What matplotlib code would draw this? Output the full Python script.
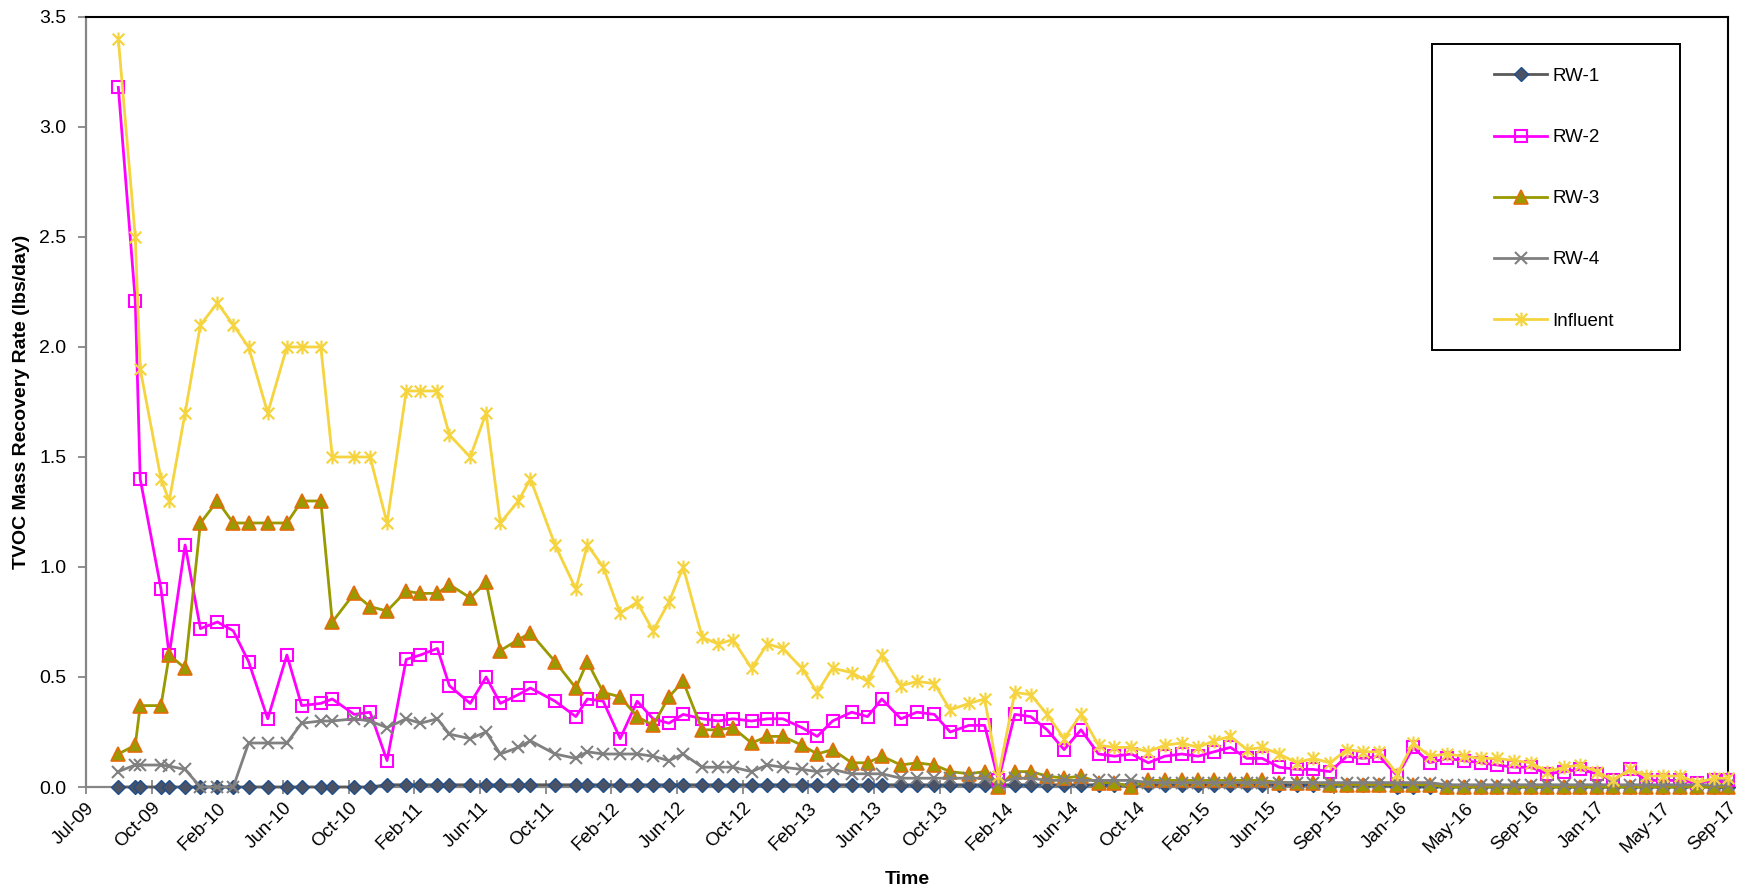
import pandas as pd
import matplotlib
matplotlib.use("Agg")
import matplotlib.pyplot as plt
import matplotlib.dates as mdates
from matplotlib.path import Path
from matplotlib.patches import Rectangle
from matplotlib.ticker import MultipleLocator, FormatStrFormatter

plt.rcParams["font.family"] = ["Liberation Sans", "DejaVu Sans"]

# sampling dates (roughly monthly)
sample_dates = [
    "2009-08-30", "2009-09-30", "2009-10-09", "2009-11-16", "2009-12-01", "2009-12-30",
    "2010-01-27", "2010-02-27", "2010-03-28", "2010-04-25", "2010-05-30", "2010-07-04",
    "2010-07-31", "2010-09-04", "2010-09-25", "2010-11-04", "2010-12-03",
    "2011-01-03", "2011-02-07", "2011-03-05", "2011-04-05", "2011-04-27", "2011-06-04",
    "2011-07-03", "2011-07-29", "2011-08-31", "2011-09-22", "2011-11-06", "2011-12-14",
    "2012-01-04", "2012-02-02", "2012-03-04", "2012-04-04", "2012-05-03", "2012-06-01",
    "2012-06-27", "2012-08-01", "2012-08-30", "2012-09-26", "2012-10-30", "2012-11-28",
    "2012-12-26",
    "2013-01-30", "2013-02-27", "2013-03-27", "2013-05-01", "2013-05-30", "2013-06-25",
    "2013-07-30", "2013-08-28", "2013-09-29", "2013-10-28", "2013-12-01", "2013-12-30",
    "2014-01-24", "2014-02-23", "2014-03-24", "2014-04-23", "2014-05-24", "2014-06-24",
    "2014-07-26", "2014-08-24", "2014-09-24", "2014-10-25", "2014-11-24", "2014-12-25",
    "2015-01-24", "2015-02-22", "2015-03-24", "2015-04-23", "2015-05-21", "2015-06-21",
    "2015-07-23", "2015-08-22", "2015-09-22", "2015-10-23", "2015-11-21", "2015-12-21",
    "2016-01-23", "2016-02-21", "2016-03-22", "2016-04-22", "2016-05-23", "2016-06-23",
    "2016-07-23", "2016-08-23", "2016-09-23", "2016-10-23", "2016-11-23", "2016-12-22",
    "2017-01-22", "2017-02-20", "2017-03-23", "2017-04-22", "2017-05-23", "2017-06-23",
    "2017-07-24", "2017-08-24", "2017-09-18",
]

# TVOC mass recovery rate, lbs/day
rw1 = [0.0] * 17 + [0.01] * 61 + [0.0] * 21

rw2 = [
    3.18, 2.21, 1.40, 0.90, 0.60, 1.10, 0.72, 0.75, 0.71, 0.57, 0.31, 0.60, 0.37,
    0.38, 0.40, 0.33, 0.34, 0.12, 0.58, 0.60, 0.63, 0.46, 0.38, 0.50, 0.38, 0.42,
    0.45, 0.39, 0.32, 0.40, 0.39, 0.22, 0.39, 0.31, 0.29, 0.33, 0.31, 0.30, 0.31,
    0.30, 0.31, 0.31, 0.27, 0.23, 0.30, 0.34, 0.32, 0.40, 0.31, 0.34,
    0.33, 0.25, 0.28, 0.28, 0.03, 0.33, 0.32, 0.26, 0.17, 0.26, 0.15, 0.14, 0.15,
    0.11, 0.14, 0.15, 0.14, 0.16, 0.18, 0.13, 0.13, 0.09, 0.08, 0.08,
    0.07, 0.14, 0.13, 0.14, 0.05, 0.18, 0.11, 0.13, 0.12, 0.11, 0.10, 0.09, 0.09,
    0.06, 0.07, 0.08, 0.06, 0.03, 0.08, 0.03, 0.03, 0.03, 0.02, 0.03, 0.03,
]

rw3 = [
    0.15, 0.19, 0.37, 0.37, 0.60, 0.54, 1.20, 1.30, 1.20, 1.20, 1.20, 1.20, 1.30,
    1.30, 0.75, 0.88, 0.82, 0.80, 0.89, 0.88, 0.88, 0.92, 0.86, 0.93, 0.62, 0.67,
    0.70, 0.57, 0.45, 0.57, 0.43, 0.41, 0.32, 0.28, 0.41, 0.48, 0.26, 0.26, 0.27,
    0.20, 0.23, 0.23, 0.19, 0.15, 0.17, 0.11, 0.11, 0.14, 0.10, 0.11,
    0.10, 0.07, 0.06, 0.07, 0.00, 0.07, 0.07, 0.05, 0.04, 0.05, 0.02, 0.02, 0.00,
    0.03, 0.03, 0.03, 0.03, 0.03, 0.03, 0.03, 0.03, 0.02, 0.02, 0.02,
    0.01, 0.01, 0.01, 0.01, 0.01, 0.01, 0.01,
    0.0, 0.0, 0.0, 0.0, 0.0, 0.0, 0.0, 0.0, 0.0, 0.0, 0.0, 0.0, 0.0, 0.0, 0.0,
    0.0, 0.0, 0.0,
]

rw4 = [
    0.07, 0.10, 0.10, 0.10, 0.095, 0.08, 0.00, 0.00, 0.00, 0.20, 0.20, 0.20, 0.29,
    0.30, 0.30, 0.31, 0.30, 0.27, 0.31, 0.29, 0.31, 0.24, 0.22, 0.25, 0.15, 0.18,
    0.21, 0.15, 0.13, 0.16, 0.15, 0.15, 0.15, 0.14, 0.12, 0.15, 0.09, 0.09, 0.09,
    0.07, 0.10, 0.09, 0.08, 0.07, 0.08, 0.06, 0.06, 0.06, 0.04, 0.04,
    0.04, 0.04, 0.04, 0.04, 0.02, 0.04, 0.04, 0.03, 0.03, 0.03, 0.03, 0.03, 0.03,
    0.02, 0.02, 0.02, 0.02, 0.02, 0.02, 0.02, 0.02, 0.02, 0.02, 0.02,
    0.02, 0.02, 0.02, 0.02, 0.02, 0.02, 0.02,
    0.01, 0.01, 0.01, 0.01, 0.01, 0.01, 0.01, 0.01, 0.01, 0.01, 0.01, 0.01, 0.01,
    0.01, 0.01, 0.01, 0.01, 0.01,
]

influent = [
    3.40, 2.50, 1.90, 1.40, 1.30, 1.70, 2.10, 2.20, 2.10, 2.00, 1.70, 2.00, 2.00,
    2.00, 1.50, 1.50, 1.50, 1.20, 1.80, 1.80, 1.80, 1.60, 1.50, 1.70, 1.20, 1.30,
    1.40, 1.10, 0.90, 1.10, 1.00, 0.79, 0.84, 0.71, 0.84, 1.00, 0.68, 0.65, 0.67,
    0.54, 0.65, 0.63, 0.54, 0.43, 0.54, 0.52, 0.48, 0.60, 0.46, 0.48,
    0.47, 0.35, 0.38, 0.40, 0.05, 0.43, 0.42, 0.33, 0.22, 0.33, 0.19, 0.18, 0.18,
    0.16, 0.19, 0.20, 0.18, 0.21, 0.23, 0.17, 0.18, 0.15, 0.11, 0.13,
    0.11, 0.17, 0.16, 0.16, 0.06, 0.20, 0.14, 0.15, 0.14, 0.13, 0.13, 0.12, 0.11,
    0.07, 0.09, 0.10, 0.07, 0.03, 0.08, 0.05, 0.05, 0.05, 0.02, 0.04, 0.04,
]

dates = pd.to_datetime(sample_dates)

# asterisk marker: an x with a vertical bar through it
star = Path([(-1, -1), (1, 1), (-1, 1), (1, -1), (0, -1.2), (0, 1.2)],
            [Path.MOVETO, Path.LINETO] * 3)

fig = plt.figure(figsize=(17.38, 8.93), dpi=100)
ax = fig.add_axes([0.0495, 0.1187, 0.9447, 0.8623])

lw = 2.0
ax.plot(dates, rw1, color="#595959", lw=lw, marker="D", ms=7,
        mfc="#4B5263", mec="#1F4E8C", mew=1.0, label="RW-1", clip_on=False, zorder=3)
ax.plot(dates, rw2, color="#FF00FF", lw=lw, marker="s", ms=9,
        mfc="none", mec="#FF00FF", mew=1.5, label="RW-2", clip_on=False, zorder=4)
ax.plot(dates, rw3, color="#999900", lw=lw, marker="^", ms=10,
        mfc="#999900", mec="#E46C0A", mew=1.2, label="RW-3", clip_on=False, zorder=5)
ax.plot(dates, rw4, color="#808080", lw=lw, marker="x", ms=8,
        mec="#808080", mew=1.5, label="RW-4", clip_on=False, zorder=6)
ax.plot(dates, influent, color="#F5D43F", lw=lw, marker=star, ms=10,
        mfc="none", mec="#F5D43F", mew=1.6, label="Influent", clip_on=False, zorder=7)

# date axis: 120-day major unit starting 2 Jul 2009
x0 = pd.Timestamp("2009-07-02")
xticks = [x0 + pd.Timedelta(days=120 * i) for i in range(26)]
ax.set_xlim(xticks[0], xticks[-1])
ax.set_xticks(xticks)
ax.xaxis.set_major_formatter(mdates.DateFormatter("%b-%y"))

ax.set_ylim(0, 3.5)
ax.yaxis.set_major_locator(MultipleLocator(0.5))
ax.yaxis.set_major_formatter(FormatStrFormatter("%.1f"))

ax.tick_params(axis="x", direction="inout", length=10, width=1.3, color="#868686",
               labelsize=13.5, pad=4)
ax.tick_params(axis="y", direction="out", length=6, width=1.3, color="#868686",
               labelsize=14, pad=8)
for lab in ax.get_xticklabels():
    lab.set_rotation(45)
    lab.set_ha("right")
    lab.set_va("top")
    lab.set_rotation_mode("anchor")

for side in ["top", "right"]:
    ax.spines[side].set_color("black")
    ax.spines[side].set_linewidth(1.5)
for side in ["left", "bottom"]:
    ax.spines[side].set_color("#868686")
    ax.spines[side].set_linewidth(1.6)

fig.text(22 / 1738, 0.5498, "TVOC Mass Recovery Rate (lbs/day)", rotation=90,
         ha="center", va="center", fontsize=14, fontweight="bold")
fig.text(0.5219, 0.0146, "Time", ha="center", va="center", fontsize=14,
         fontweight="bold")

# legend with a square black frame
ax.add_patch(Rectangle((0.8195, 0.5675), 0.1513, 0.3975, transform=ax.transAxes,
                       fill=True, facecolor="white", edgecolor="black", lw=1.4,
                       zorder=9))
leg = ax.legend(loc="upper left", bbox_to_anchor=(0.8575, 0.934), frameon=False,
                fontsize=13.5, borderpad=0, borderaxespad=0, handlelength=2.85,
                handletextpad=0.25, labelspacing=2.35, numpoints=1)
leg.set_zorder(10)

fig.savefig("out.png", dpi=100)
